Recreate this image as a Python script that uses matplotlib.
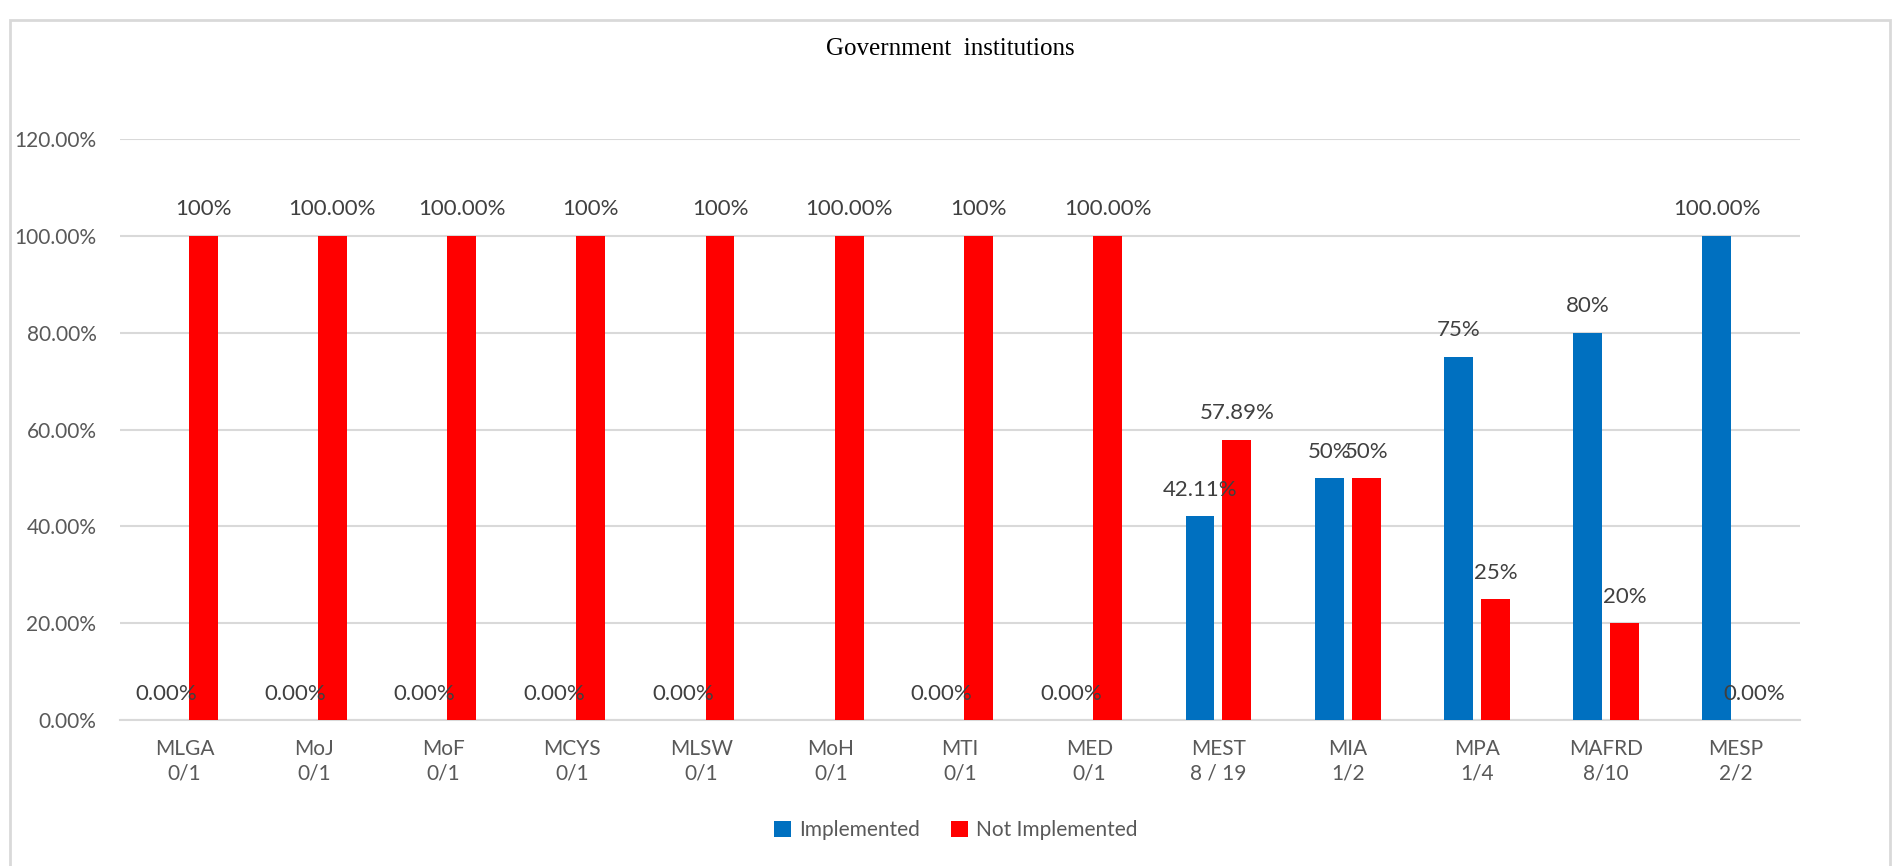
import matplotlib.pyplot as plt
import numpy as np
from matplotlib.patches import Rectangle

# data
institutions = ["MLGA", "MoJ", "MoF", "MCYS", "MLSW", "MoH", "MTI", "MED",
                "MEST", "MIA", "MPA", "MAFRD", "MESP"]
ratios = ["0/1", "0/1", "0/1", "0/1", "0/1", "0/1", "0/1", "0/1",
          "8 / 19", "1/2", "1/4", "8/10", "2/2"]
implemented = [0, 0, 0, 0, 0, 0, 0, 0, 0.4211, 0.50, 0.75, 0.80, 1.00]
not_implemented = [1, 1, 1, 1, 1, 1, 1, 1, 0.5789, 0.50, 0.25, 0.20, 0.0]
impl_labels = ["0.00%", "0.00%", "0.00%", "0.00%", "0.00%", "", "0.00%", "0.00%",
               "42.11%", "50%", "75%", "80%", "100.00%"]
not_impl_labels = ["100%", "100.00%", "100.00%", "100%", "100%", "100.00%", "100%",
                   "100.00%", "57.89%", "50%", "25%", "20%", "0.00%"]

blue = "#0070C0"
red = "#FF0000"
txt = "#595959"
grid = "#D9D9D9"

plt.rcParams['font.family'] = ['Lato', 'DejaVu Sans']

fig = plt.figure(figsize=(18.97, 8.66), dpi=100)
ax = fig.add_axes([120 / 1897, 1 - 720 / 866, 1680 / 1897, 581 / 866])

x = np.arange(len(institutions))
w = 0.224
off = 0.143
b1 = ax.bar(x - off, implemented, w, color=blue, label="Implemented", zorder=3)
b2 = ax.bar(x + off, not_implemented, w, color=red, label="Not Implemented", zorder=3)

for bars, labels in [(b1, impl_labels), (b2, not_impl_labels)]:
    for b, lab in zip(bars, labels):
        if lab == "":
            continue
        ax.annotate(lab, (b.get_x() + b.get_width() / 2, b.get_height()),
                    xytext=(0, 19), textcoords="offset points",
                    ha="center", va="center", fontsize=16, color="#404040", zorder=4)

ax.set_xlim(-0.5, len(institutions) - 0.5)
ax.set_ylim(0, 1.2)
yt = np.arange(0, 1.21, 0.2)
ax.set_yticks(yt)
ax.set_yticklabels([f"{v*100:.2f}%" for v in yt])
ax.set_xticks(x)
ax.set_xticklabels([f"{a}\n{r}" for a, r in zip(institutions, ratios)], linespacing=1.25)
ax.tick_params(axis="y", length=0, pad=17, labelsize=15, labelcolor=txt)
ax.tick_params(axis="x", length=0, pad=14, labelsize=15, labelcolor=txt)
ax.yaxis.grid(True, color=grid, linewidth=1.5, zorder=0)
ax.set_axisbelow(True)
for s in ["top", "right", "left"]:
    ax.spines[s].set_visible(False)
ax.spines["bottom"].set_color(grid)
ax.spines["bottom"].set_linewidth(1.5)

fig.text(950 / 1897, 1 - 49 / 866, "Government  institutions", ha="center", va="center",
         fontsize=18, family="Liberation Serif", color="black")

# chart border
fig.patches.append(Rectangle((10 / 1897, -0.01), 1880 / 1897, 1 - 20 / 866 + 0.01,
                             transform=fig.transFigure, fill=False,
                             edgecolor=grid, linewidth=2))

fig.legend(handles=[b1, b2], loc="center", bbox_to_anchor=(956 / 1897, 1 - 830 / 866),
           ncol=2, frameon=False, fontsize=15, handlelength=0.8, handleheight=0.8,
           handletextpad=0.4, columnspacing=1.5, labelcolor=txt)

fig.savefig("out.png", dpi=100)
